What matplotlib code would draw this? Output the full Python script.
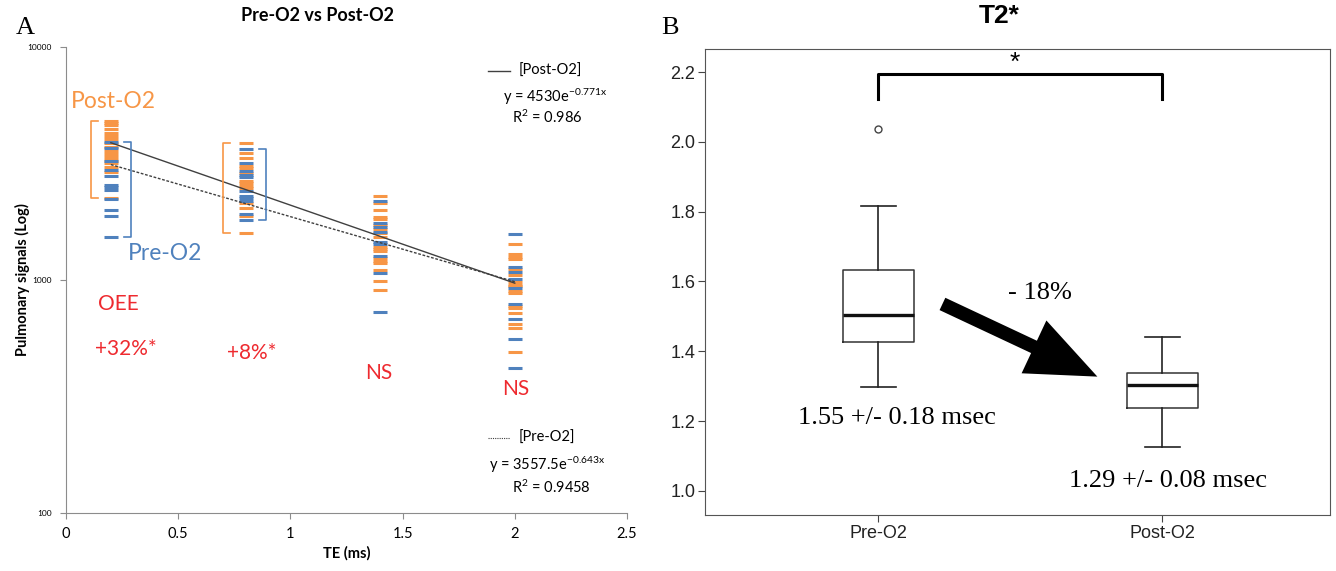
import matplotlib
matplotlib.use("Agg")
import matplotlib.pyplot as plt
from matplotlib.patches import FancyArrowPatch
import numpy as np

plt.rcParams["mathtext.default"] = "regular"

# --- Panel A: signal per TE ---
te_groups = [0.2, 0.8, 1.4, 2.0]
post_o2 = [
    [4830, 4730, 4610, 4460, 4290, 4150, 4020, 3860, 3730, 3590, 3470, 3380, 3270, 3170, 3060, 2920, 2240],
    [3860, 3500, 3330, 3100, 3020, 2890, 2670, 2600, 2530, 2480, 2130, 2030, 1880, 1590],
    [2290, 2150, 2000, 1870, 1820, 1720, 1650, 1590, 1530, 1390, 1360, 1330, 1240, 1210, 1180, 1100, 990, 910],
    [1430, 1290, 1260, 1230, 1120, 1050, 980, 950, 940, 900, 880, 770, 760, 720, 650, 620, 490],
]
pre_o2 = [
    [3920, 3680, 3250, 2970, 2800, 2560, 2500, 2430, 2220, 2000, 1880, 1530],
    [3640, 3170, 2950, 2820, 2780, 2420, 2290, 2240, 2190, 1920, 1810],
    [2190, 1760, 1680, 1610, 1460, 1430, 1270, 1070, 730],
    [1570, 1140, 1080, 1010, 920, 790, 680, 560, 420],
]
# exponential fits shown on the chart
post_fit = (4530, -0.771)
pre_fit = (3557.5, -0.643)
group_labels = ["+32%*", "+8%*", "NS", "NS"]

# --- Panel B: T2* box stats ---
box_names = ["Pre-O2", "Post-O2"]
box_q1 = [1.427, 1.238]
box_med = [1.504, 1.304]
box_q3 = [1.633, 1.338]
box_wlo = [1.298, 1.126]
box_whi = [1.817, 1.441]
box_fliers = [[2.037], []]
box_texts = ["1.55 +/- 0.18 msec", "1.29 +/- 0.08 msec"]

ORANGE = "#F79646"
BLUE = "#4F81BD"
RED = "#EE2A2F"
GREY = "#8c8c8c"
SANS_A = "Lato"

fig = plt.figure(figsize=(13.36, 5.71), dpi=100)

# ================= Panel A =================
ax = fig.add_axes([0.0494, 0.1016, 0.4199, 0.8161])
for x, vals in zip(te_groups, post_o2):
    ax.plot([x] * len(vals), vals, linestyle="none", marker="_", ms=9.5, mew=2.2, color=ORANGE)
for x, vals in zip(te_groups, pre_o2):
    ax.plot([x] * len(vals), vals, linestyle="none", marker="_", ms=9.5, mew=2.2, color=BLUE)

xf = np.linspace(te_groups[0], te_groups[-1], 50)
ax.plot(xf, post_fit[0] * np.exp(post_fit[1] * xf), color="#404040", lw=1)
ax.plot(xf, pre_fit[0] * np.exp(pre_fit[1] * xf), color="#404040", lw=1, ls=(0, (2, 1.2)))

# brackets around the first two groups
def bracket(x, lo, hi, color, side):
    d = 0.03 * side
    ax.plot([x + d, x, x, x + d], [lo, lo, hi, hi], color=color, lw=1.2)

bracket(0.111, min(post_o2[0]), max(post_o2[0]), ORANGE, 1)
bracket(0.290, min(pre_o2[0]), max(pre_o2[0]), BLUE, -1)
bracket(0.700, min(post_o2[1]), max(post_o2[1]), ORANGE, 1)
bracket(0.891, min(pre_o2[1]), max(pre_o2[1]), BLUE, -1)

ax.set_yscale("log")
ax.set_ylim(100, 10000)
ax.set_xlim(0, 2.5)
ax.set_yticks([100, 1000, 10000])
ax.set_yticklabels(["100", "1000", "10000"])
ax.yaxis.set_minor_locator(matplotlib.ticker.NullLocator())
ax.set_xticks([0, 0.5, 1, 1.5, 2, 2.5])
ax.set_xticklabels(["0", "0.5", "1", "1.5", "2", "2.5"])
ax.tick_params(axis="y", labelsize=6, length=4, color=GREY, pad=6)
ax.tick_params(axis="x", labelsize=10.5, length=4, color=GREY, pad=6)
for lab in ax.get_xticklabels() + ax.get_yticklabels():
    lab.set_family(SANS_A)
for s in ["top", "right"]:
    ax.spines[s].set_visible(False)
for s in ["left", "bottom"]:
    ax.spines[s].set_color(GREY)
ax.set_xlabel("TE (ms)", family=SANS_A, fontweight="bold", fontsize=10.5, labelpad=4)
ax.set_ylabel("Pulmonary signals (Log)", family=SANS_A, fontweight="bold", fontsize=10.5)
ax.yaxis.set_label_coords(-0.064, 0.5)

ax.text(0.084, 0.882, "Post-O2", transform=ax.transAxes, color=ORANGE, family=SANS_A,
        fontsize=16.5, ha="center", va="center")
ax.text(0.176, 0.556, "Pre-O2", transform=ax.transAxes, color=BLUE, family=SANS_A,
        fontsize=16.5, ha="center", va="center")
ax.text(0.093, 0.448, "OEE", transform=ax.transAxes, color=RED, family=SANS_A,
        fontsize=15, ha="center", va="center")
lab_pos = [(0.107, 0.352), (0.332, 0.343), (0.558, 0.300), (0.802, 0.266)]
for (px, py), t in zip(lab_pos, group_labels):
    ax.text(px, py, t, transform=ax.transAxes, color=RED, family=SANS_A,
            fontsize=15, ha="center", va="center")

# fit legends
ax.plot([0.752, 0.791], [0.948, 0.948], transform=ax.transAxes, color="#404040", lw=1)
ax.text(0.806, 0.948, "[Post-O2]", transform=ax.transAxes, family=SANS_A, fontsize=10.5, va="center")
ax.text(0.779, 0.893, r"y = 4530e$^{-0.771x}$", transform=ax.transAxes, family=SANS_A, fontsize=10.5, va="center")
ax.text(0.795, 0.850, r"R$^2$ = 0.986", transform=ax.transAxes, family=SANS_A, fontsize=10.5, va="center")
ax.plot([0.752, 0.791], [0.161, 0.161], transform=ax.transAxes, color="#404040", lw=0.8, ls=(0, (1, 1)))
ax.text(0.806, 0.161, "[Pre-O2]", transform=ax.transAxes, family=SANS_A, fontsize=10.5, va="center")
ax.text(0.754, 0.103, r"y = 3557.5e$^{-0.643x}$", transform=ax.transAxes, family=SANS_A, fontsize=10.5, va="center")
ax.text(0.795, 0.054, r"R$^2$ = 0.9458", transform=ax.transAxes, family=SANS_A, fontsize=10.5, va="center")

fig.text(0.238, 0.972, "Pre-O2 vs Post-O2", family=SANS_A, fontweight="bold", fontsize=13,
         ha="center", va="center")
fig.text(0.019, 0.951, "A", family="Liberation Serif", fontsize=19, ha="center", va="center")

# ================= Panel B =================
bx = fig.add_axes([0.5277, 0.0981, 0.4678, 0.8161])
stats = []
for i in range(len(box_names)):
    stats.append(dict(label=box_names[i], q1=box_q1[i], med=box_med[i], q3=box_q3[i],
                      whislo=box_wlo[i], whishi=box_whi[i], fliers=box_fliers[i]))
bx.bxp(stats, positions=[0, 1], widths=0.25,
       boxprops=dict(color="#333333", lw=1.1),
       whiskerprops=dict(color="#222222", lw=1.2),
       capprops=dict(color="#222222", lw=1.2),
       medianprops=dict(color="#111111", lw=2.4),
       flierprops=dict(marker="o", mfc="white", mec="#444444", ms=5, mew=1))
bx.set_xlim(-0.61, 1.59)
bx.set_ylim(0.931, 2.266)
bx.set_yticks([1.0, 1.2, 1.4, 1.6, 1.8, 2.0, 2.2])
bx.set_yticklabels([f"{v:.1f}" for v in [1.0, 1.2, 1.4, 1.6, 1.8, 2.0, 2.2]])
bx.tick_params(labelsize=13, length=5, color="#444444", pad=2)
for lab in bx.get_xticklabels() + bx.get_yticklabels():
    lab.set_family("Liberation Sans")
    lab.set_color("#222222")
for s in bx.spines.values():
    s.set_color("#555555")

# significance bracket
bx.plot([0, 0, 1, 1], [2.123, 2.195, 2.195, 2.123], color="black", lw=2.2)
bx.text(0.48, 2.225, "*", ha="center", va="center", fontsize=19, family="Liberation Sans")

arrow = FancyArrowPatch((0.217, 1.539), (0.780, 1.324),
                        arrowstyle="simple,head_width=3.0,head_length=3.6,tail_width=0.7",
                        mutation_scale=14, color="black", lw=0)
bx.add_patch(arrow)
bx.text(0.569, 1.567, "- 18%", ha="center", va="center", fontsize=19, family="Liberation Serif")
bx.text(0.066, 1.209, box_texts[0], ha="center", va="center", fontsize=19, family="Liberation Serif")
bx.text(1.02, 1.029, box_texts[1], ha="center", va="center", fontsize=19, family="Liberation Serif")

fig.text(0.748, 0.972, "T2*", family="Liberation Sans", fontweight="bold", fontsize=19,
         ha="center", va="center")
fig.text(0.5015, 0.951, "B", family="Liberation Serif", fontsize=19, ha="center", va="center")

fig.savefig("out.png", dpi=100)
